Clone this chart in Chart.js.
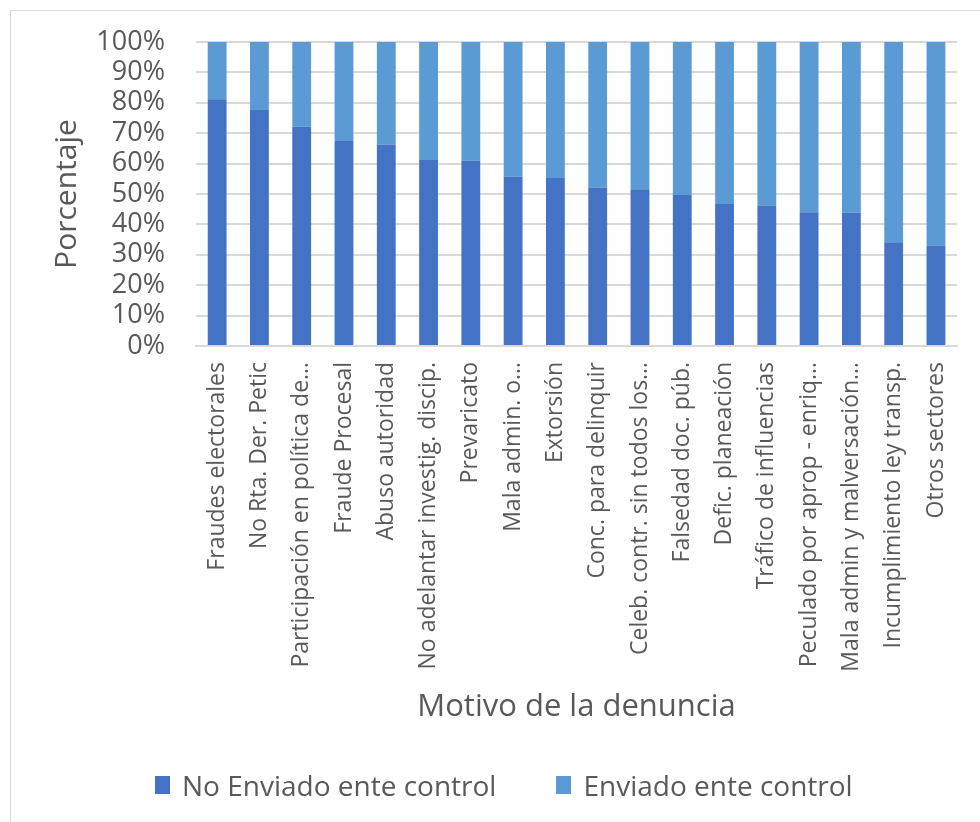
<!DOCTYPE html>
<html>
<head>
<meta charset="utf-8">
<script src="https://cdn.jsdelivr.net/npm/chart.js@4"></script>
<style>
  html, body { margin: 0; padding: 0; background: #fff; overflow: hidden; }
  #wrap { position: relative; width: 980px; height: 822px; font-family: 'Open Sans', 'DejaVu Sans', sans-serif; }
  #marco { position: absolute; left: 10px; top: 10px; width: 1000px; height: 900px; border: 1.5px solid #d9d9d9; box-sizing: border-box; }
  #grafico { position: absolute; left: 0; top: 0; }
  #leyenda { position: absolute; left: 155px; top: 765px; display: flex; align-items: center; gap: 60px; color: #595959; font-size: 28px; line-height: 40px; }
  #leyenda .item { display: flex; align-items: center; }
  #leyenda .caja { width: 15px; height: 18px; margin-right: 12px; }
</style>
</head>
<body>
<div id="wrap">
  <div id="marco"></div>
  <canvas id="grafico" width="980" height="822"></canvas>
  <div id="leyenda"></div>
</div>
<script>
  // Motivos de denuncia (etiquetas tal como se muestran, recortadas)
  const motivos = [
    'Fraudes electorales', 'No Rta. Der. Petic', 'Participación en política de…',
    'Fraude Procesal', 'Abuso autoridad', 'No adelantar investig. discip.',
    'Prevaricato', 'Mala admin. o…', 'Extorsión', 'Conc. para delinquir',
    'Celeb. contr. sin todos los…', 'Falsedad doc. púb.', 'Defic. planeación',
    'Tráfico de influencias', 'Peculado por aprop - enriq…', 'Mala admin y malversación…',
    'Incumplimiento ley transp.', 'Otros sectores'
  ];
  const noEnviado = [81.2, 77.6, 72.1, 67.4, 66.3, 61.2, 60.9, 55.7, 55.3, 52.1, 51.6, 49.7, 46.7, 46.2, 44.0, 43.8, 34.1, 33.1];
  const enviado   = [18.8, 22.4, 27.9, 32.6, 33.7, 38.8, 39.1, 44.3, 44.7, 47.9, 48.4, 50.3, 53.3, 53.8, 56.0, 56.2, 65.9, 66.9];
  const ticksY = [0, 10, 20, 30, 40, 50, 60, 70, 80, 90, 100];

  const gris = '#595959';
  const fuente = "'Open Sans', 'DejaVu Sans', sans-serif";

  const chart = new Chart(document.getElementById('grafico'), {
    type: 'bar',
    data: {
      labels: motivos,
      datasets: [
        { label: 'No Enviado ente control', data: noEnviado, backgroundColor: '#4472c4', barPercentage: 0.445, categoryPercentage: 1 },
        { label: 'Enviado ente control', data: enviado, backgroundColor: '#5b9bd5', barPercentage: 0.445, categoryPercentage: 1 }
      ]
    },
    options: {
      responsive: false,
      animation: false,
      layout: { padding: { left: 24, right: 16, top: 42, bottom: 96 } },
      plugins: {
        tooltip: { enabled: false },
        legend: { display: false }
      },
      scales: {
        x: {
          stacked: true,
          afterFit: (s) => { s.height = 380; },
          grid: { display: false, drawTicks: false },
          border: { color: '#d9d9d9', width: 2 },
          ticks: {
            color: gris, minRotation: 90, maxRotation: 90, autoSkip: false, padding: 16,
            font: { family: fuente, size: 23 }
          },
          title: { display: true, text: 'Motivo de la denuncia', color: gris, font: { family: fuente, size: 31 }, padding: { top: 10, bottom: 0 } }
        },
        y: {
          stacked: true,
          min: 0, max: 100,
          afterBuildTicks: (s) => { s.ticks = ticksY.map(v => ({ value: v })); },
          afterFit: (s) => { s.width = 172; s.paddingTop = 0; s.paddingBottom = 0; },
          grid: { color: '#d9d9d9', lineWidth: 2, drawTicks: false },
          border: { display: false },
          ticks: {
            color: gris, padding: 31, autoSkip: false,
            font: { family: fuente, size: 27 },
            callback: (v) => v + '%'
          },
          title: { display: true, text: 'Porcentaje', color: gris, font: { family: fuente, size: 30 }, padding: { top: 25, bottom: 0 } }
        }
      }
    }
  });

  // Leyenda en HTML a partir de las series
  const ley = document.getElementById('leyenda');
  chart.data.datasets.forEach(ds => {
    const it = document.createElement('div'); it.className = 'item';
    const c = document.createElement('span'); c.className = 'caja'; c.style.background = ds.backgroundColor;
    const t = document.createElement('span'); t.textContent = ds.label;
    it.appendChild(c); it.appendChild(t); ley.appendChild(it);
  });
</script>
</body>
</html>
